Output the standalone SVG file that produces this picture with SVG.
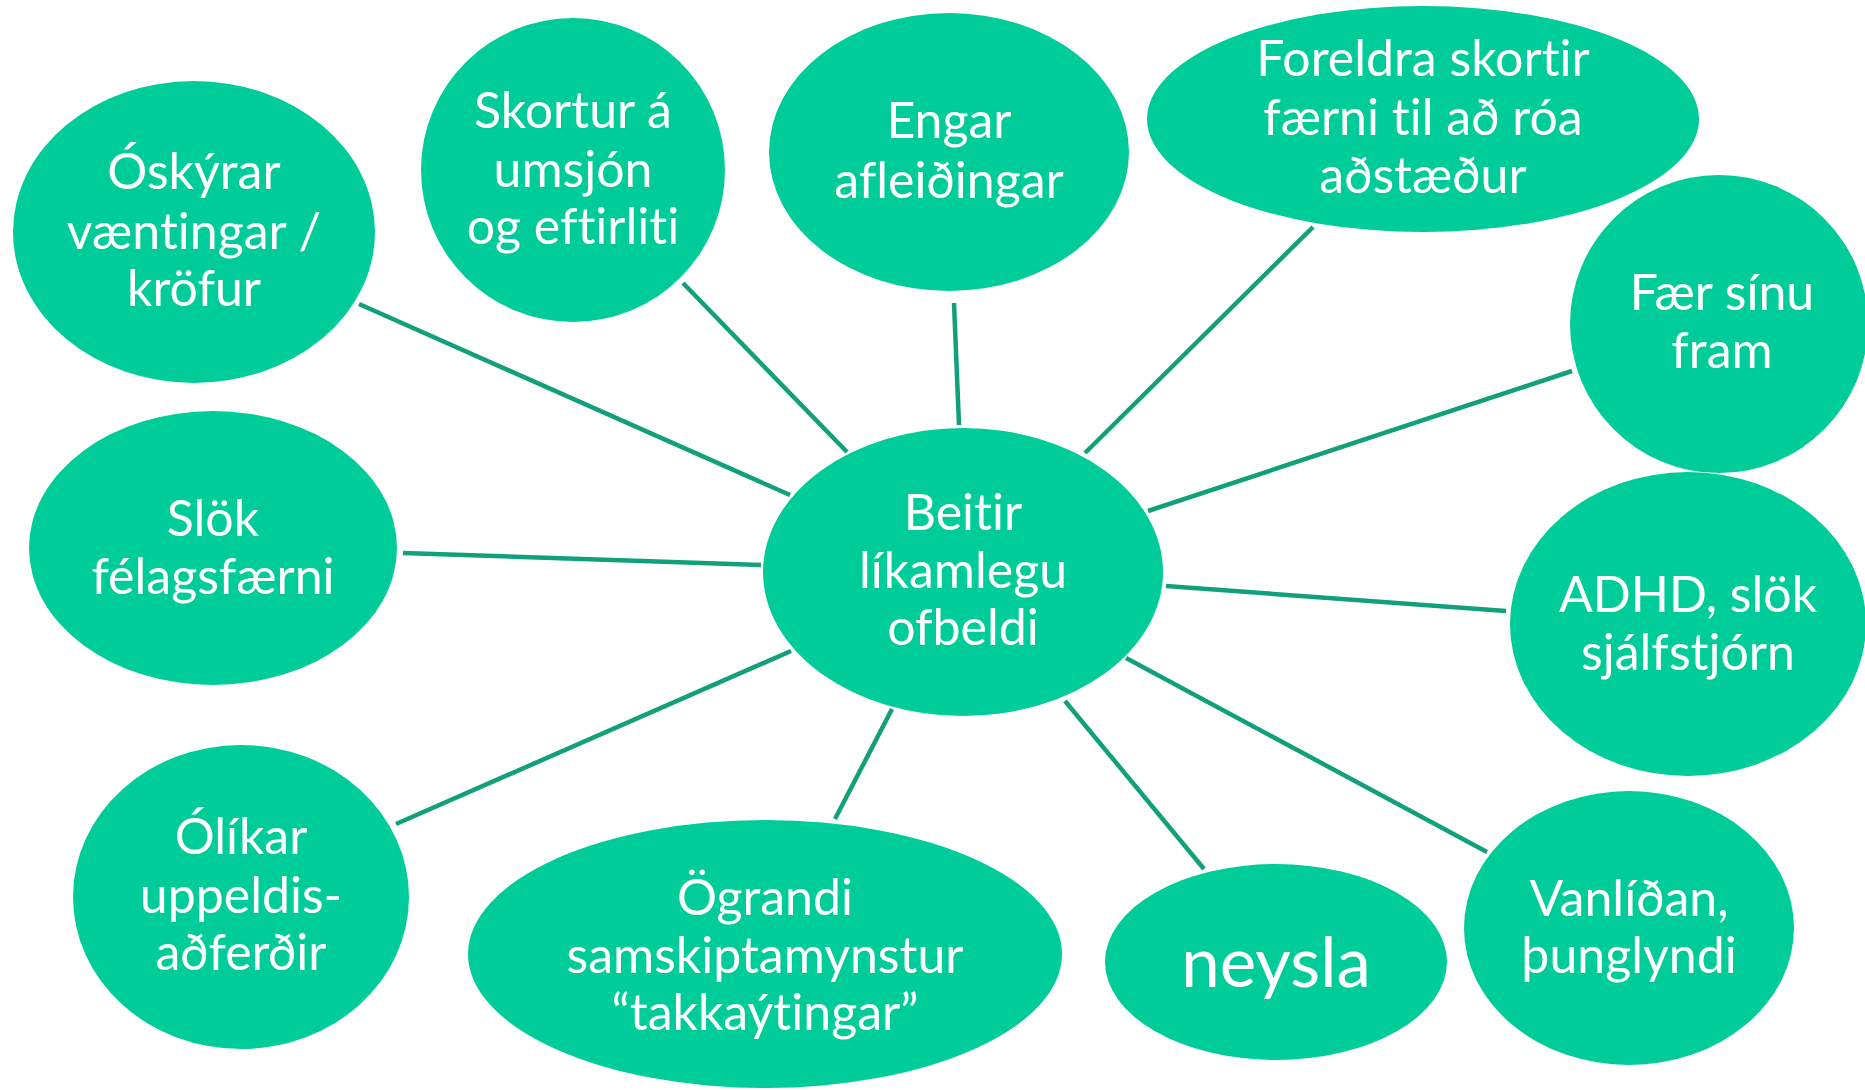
<svg xmlns="http://www.w3.org/2000/svg" width="1865" height="1090" viewBox="0 0 1865 1090">
<style>
.n{fill:#00cc99}
.t{fill:#ffffff;font-family:Lato,"Open Sans",sans-serif;font-size:50px;text-anchor:middle;dominant-baseline:central;font-variant-ligatures:none;font-feature-settings:"liga" 0,"dlig" 0}
.c line{stroke:#12a07b;stroke-width:4.5;stroke-linecap:butt}
</style>
<rect width="1865" height="1090" fill="#ffffff"/>
<g id="connectors" class="c">
<line x1="359" y1="304" x2="790" y2="495"/>
<line x1="683" y1="283" x2="847" y2="452"/>
<line x1="954" y1="303" x2="959" y2="425"/>
<line x1="1313" y1="227" x2="1085" y2="453"/>
<line x1="1572" y1="371" x2="1148" y2="511"/>
<line x1="403" y1="553" x2="761" y2="565"/>
<line x1="1166" y1="586" x2="1506" y2="611"/>
<line x1="396" y1="824" x2="791" y2="651"/>
<line x1="892" y1="709" x2="835" y2="819"/>
<line x1="1065" y1="701" x2="1204" y2="869"/>
<line x1="1126" y1="658" x2="1487" y2="852"/>
</g>
<g id="n1"><ellipse class="n" cx="194" cy="232" rx="181" ry="151"/>
<text class="t" x="194" y="170">Óskýrar</text><text class="t" x="194" y="230">væntingar /</text><text class="t" x="194" y="287">kröfur</text></g>
<g id="n2"><ellipse class="n" cx="573" cy="170" rx="152" ry="152"/>
<text class="t" x="573" y="109">Skortur á</text><text class="t" x="573" y="168">umsjón</text><text class="t" x="573" y="225">og eftirliti</text></g>
<g id="n3"><ellipse class="n" cx="949" cy="152" rx="180" ry="139"/>
<text class="t" x="949" y="119">Engar</text><text class="t" x="949" y="179">afleiðingar</text></g>
<g id="n4"><ellipse class="n" cx="1423" cy="119" rx="276" ry="113"/>
<text class="t" x="1423" y="57">Foreldra skortir</text><text class="t" x="1423" y="116">færni til að róa</text><text class="t" x="1423" y="174">aðstæður</text></g>
<g id="n5"><ellipse class="n" cx="1719" cy="324" rx="149" ry="149"/>
<text class="t" x="1722" y="291">Fær sínu</text><text class="t" x="1722" y="349">fram</text></g>
<g id="n6"><ellipse class="n" cx="213" cy="548" rx="184" ry="137"/>
<text class="t" x="213" y="517">Slök</text><text class="t" x="213" y="575">félagsfærni</text></g>
<g id="center"><ellipse class="n" cx="963" cy="572" rx="200" ry="144"/>
<text class="t" x="963" y="511">Beitir</text><text class="t" x="963" y="569">líkamlegu</text><text class="t" x="963" y="626">ofbeldi</text></g>
<g id="n8"><ellipse class="n" cx="1688" cy="624" rx="178" ry="152"/>
<text class="t" x="1688" y="593">ADHD, slök</text><text class="t" x="1688" y="651">sjálfstjórn</text></g>
<g id="n9"><ellipse class="n" cx="241" cy="897" rx="168" ry="152"/>
<text class="t" x="241" y="835">Ólíkar</text><text class="t" x="241" y="894">uppeldis-</text><text class="t" x="241" y="951">aðferðir</text></g>
<g id="n10"><ellipse class="n" cx="765" cy="954" rx="297" ry="134"/>
<text class="t" x="765" y="896">Ögrandi</text><text class="t" x="765" y="954">samskiptamynstur</text><text class="t" x="765" y="1011">“takkaýtingar”</text></g>
<g id="n11"><ellipse class="n" cx="1276" cy="962" rx="171" ry="98"/>
<text class="t" x="1276" y="960" style="font-size:69px">neysla</text></g>
<g id="n12"><ellipse class="n" cx="1629" cy="928" rx="165" ry="137"/>
<text class="t" x="1629" y="897">Vanlíðan,</text><text class="t" x="1629" y="954">þunglyndi</text></g>
</svg>
